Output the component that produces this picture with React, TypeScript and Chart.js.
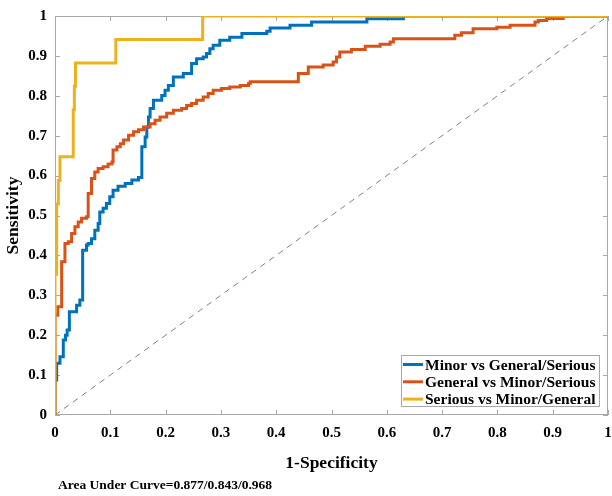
import React, { useEffect, useRef } from 'react';
import { Chart, registerables } from 'chart.js';

Chart.register(...registerables);

// Axis ticks
const tickValues = [0, 0.1, 0.2, 0.3, 0.4, 0.5, 0.6, 0.7, 0.8, 0.9, 1];
const tickLabels = ['0', '0.1', '0.2', '0.3', '0.4', '0.5', '0.6', '0.7', '0.8', '0.9', '1'];

// Series names
const seriesNames = ['Minor vs General/Serious', 'General vs Minor/Serious', 'Serious vs Minor/General'];

// ROC points [1-specificity, sensitivity]
const minorRoc: [number, number][] = [
  [0, 0], [0, 0.088], [0.003, 0.13], [0.009, 0.146], [0.015, 0.188], [0.019, 0.2], [0.022, 0.213],
  [0.026, 0.259], [0.039, 0.275], [0.045, 0.288], [0.05, 0.413], [0.057, 0.426], [0.06, 0.43],
  [0.066, 0.442], [0.072, 0.463], [0.078, 0.48], [0.081, 0.509], [0.087, 0.518], [0.093, 0.53],
  [0.099, 0.547], [0.105, 0.563], [0.114, 0.573], [0.127, 0.58], [0.139, 0.589], [0.151, 0.595],
  [0.157, 0.672], [0.163, 0.697], [0.166, 0.722], [0.169, 0.747], [0.172, 0.768], [0.178, 0.789],
  [0.193, 0.801], [0.199, 0.814], [0.205, 0.826], [0.214, 0.847], [0.232, 0.856], [0.247, 0.881],
  [0.256, 0.893], [0.268, 0.897], [0.274, 0.906], [0.28, 0.918], [0.286, 0.927], [0.298, 0.939],
  [0.316, 0.947], [0.338, 0.956], [0.383, 0.962], [0.389, 0.97], [0.425, 0.977], [0.464, 0.985],
  [0.564, 0.993], [0.63, 1], [1, 1],
];

const generalRoc: [number, number][] = [
  [0, 0], [0, 0.25], [0.005, 0.271], [0.012, 0.384], [0.018, 0.43], [0.024, 0.434], [0.03, 0.455],
  [0.036, 0.472], [0.042, 0.484], [0.048, 0.493], [0.057, 0.497], [0.06, 0.555], [0.066, 0.593],
  [0.072, 0.609], [0.078, 0.618], [0.087, 0.622], [0.096, 0.629], [0.103, 0.634], [0.105, 0.664],
  [0.112, 0.672], [0.118, 0.68], [0.124, 0.689], [0.133, 0.701], [0.142, 0.71], [0.151, 0.715],
  [0.16, 0.722], [0.172, 0.73], [0.181, 0.739], [0.19, 0.747], [0.202, 0.756], [0.214, 0.764],
  [0.229, 0.768], [0.238, 0.776], [0.247, 0.781], [0.256, 0.789], [0.268, 0.797], [0.277, 0.806],
  [0.286, 0.814], [0.301, 0.818], [0.316, 0.822], [0.335, 0.826], [0.35, 0.831], [0.353, 0.835],
  [0.44, 0.856], [0.458, 0.872], [0.485, 0.877], [0.503, 0.885], [0.509, 0.897], [0.515, 0.91],
  [0.536, 0.916], [0.561, 0.924], [0.588, 0.929], [0.606, 0.935], [0.612, 0.943], [0.723, 0.952],
  [0.735, 0.958], [0.756, 0.968], [0.799, 0.972], [0.823, 0.977], [0.868, 0.985], [0.874, 0.989],
  [0.889, 0.994], [0.919, 1], [1, 1],
];

const seriousRoc: [number, number][] = [
  [0, 0], [0, 0.353], [0.003, 0.529], [0.006, 0.588], [0.009, 0.647], [0.033, 0.765], [0.035, 0.824],
  [0.037, 0.882], [0.11, 0.941], [0.267, 1], [1, 1],
];

const chanceLine: [number, number][] = [[0, 0], [1, 1]];

const aucText = 'Area Under Curve=0.877/0.843/0.968';
const xTitle = '1-Specificity';
const yTitle = 'Sensitivity';

const colors = ['#0072BD', '#D95319', '#EDB120'];
const SERIF = '"Liberation Serif", "Times New Roman", "DejaVu Serif", serif';

export default function App() {
  const ref = useRef<HTMLCanvasElement>(null);

  useEffect(() => {
    if (!ref.current) return;
    const toPts = (a: [number, number][]) => a.map(([x, y]) => ({ x, y }));
    const label = (v: number) => {
      const i = tickValues.findIndex((t) => Math.abs(t - v) < 1e-9);
      return i >= 0 ? tickLabels[i] : '';
    };

    const framePlugin = {
      id: 'frame',
      beforeDatasetsDraw(chart: any) {
        const { ctx, chartArea: a, scales } = chart;
        ctx.save();
        ctx.strokeStyle = '#a8a8a8';
        ctx.lineWidth = 1;
        ctx.strokeRect(a.left + 0.5, a.top + 0.5, a.right - a.left - 1, a.bottom - a.top - 1);
        const tl = 5;
        ctx.beginPath();
        tickValues.forEach((v) => {
          const px = Math.round(scales.x.getPixelForValue(v)) + 0.5;
          ctx.moveTo(px, a.bottom);
          ctx.lineTo(px, a.bottom - tl);
          ctx.moveTo(px, a.top);
          ctx.lineTo(px, a.top + tl);
          const py = Math.round(scales.y.getPixelForValue(v)) + 0.5;
          ctx.moveTo(a.left, py);
          ctx.lineTo(a.left + tl, py);
          ctx.moveTo(a.right, py);
          ctx.lineTo(a.right - tl, py);
        });
        ctx.stroke();
        ctx.restore();
      },
      afterDraw(chart: any) {
        const { ctx, chartArea: a } = chart;
        ctx.save();
        // Legend
        const bx = 401.5, by = 355.5, bw = 198, bh = 51;
        ctx.fillStyle = '#ffffff';
        ctx.fillRect(bx, by, bw, bh);
        ctx.strokeStyle = '#a8a8a8';
        ctx.lineWidth = 1;
        ctx.strokeRect(bx, by, bw, bh);
        ctx.font = `bold 15.5px ${SERIF}`;
        ctx.textBaseline = 'middle';
        ctx.textAlign = 'left';
        seriesNames.forEach((name, i) => {
          const ry = 364.5 + i * 17.3;
          ctx.strokeStyle = colors[i];
          ctx.lineWidth = 3;
          ctx.beginPath();
          ctx.moveTo(403, ry);
          ctx.lineTo(423, ry);
          ctx.stroke();
          ctx.fillStyle = '#000';
          ctx.fillText(name, 425, ry + 1);
        });
        // Axis titles
        ctx.fillStyle = '#000';
        ctx.font = `bold 17.5px ${SERIF}`;
        ctx.textAlign = 'center';
        ctx.textBaseline = 'middle';
        ctx.fillText(xTitle, (a.left + a.right) / 2, 463);
        ctx.save();
        ctx.translate(13, (a.top + a.bottom) / 2);
        ctx.rotate(-Math.PI / 2);
        ctx.fillText(yTitle, 0, 0);
        ctx.restore();
        // AUC footnote
        ctx.font = `bold 13.5px ${SERIF}`;
        ctx.textAlign = 'left';
        ctx.fillText(aucText, 58, 486);
        ctx.restore();
      },
    };

    const tickFont = { family: SERIF, size: 15, weight: 'bold' as const };

    const chart = new Chart(ref.current, {
      type: 'scatter',
      data: {
        datasets: [
          {
            label: 'chance',
            data: toPts(chanceLine),
            showLine: true,
            borderColor: '#808080',
            borderWidth: 1,
            borderDash: [6, 5],
            pointRadius: 0,
            order: 4,
          },
          {
            label: seriesNames[0],
            data: toPts(minorRoc),
            showLine: true,
            stepped: 'before',
            borderColor: colors[0],
            borderWidth: 3,
            pointRadius: 0,
            order: 3,
          },
          {
            label: seriesNames[1],
            data: toPts(generalRoc),
            showLine: true,
            stepped: 'before',
            borderColor: colors[1],
            borderWidth: 3,
            pointRadius: 0,
            order: 2,
          },
          {
            label: seriesNames[2],
            data: toPts(seriousRoc),
            showLine: true,
            stepped: 'before',
            borderColor: colors[2],
            borderWidth: 3,
            pointRadius: 0,
            order: 1,
          },
        ] as any,
      },
      options: {
        animation: false,
        responsive: false,
        layout: { padding: { top: 16, right: 4, left: 0, bottom: 0 } },
        plugins: {
          legend: { display: false },
          tooltip: { enabled: false },
        },
        scales: {
          x: {
            type: 'linear',
            min: 0,
            max: 1,
            afterBuildTicks: (s: any) => {
              s.ticks = tickValues.map((v) => ({ value: v }));
            },
            afterFit: (s: any) => {
              s.height = 81;
              s.paddingLeft = 0;
              s.paddingRight = 0;
            },
            ticks: {
              callback: (v: any) => label(Number(v)),
              font: tickFont,
              color: '#000',
              padding: 9,
              maxRotation: 0,
              autoSkip: false,
            },
            grid: { display: false, drawTicks: false },
            border: { display: false },
          },
          y: {
            type: 'linear',
            min: 0,
            max: 1,
            afterBuildTicks: (s: any) => {
              s.ticks = tickValues.map((v) => ({ value: v }));
            },
            afterFit: (s: any) => {
              s.width = 55;
              s.paddingTop = 0;
              s.paddingBottom = 0;
            },
            ticks: {
              callback: (v: any) => label(Number(v)),
              font: tickFont,
              color: '#000',
              padding: 8,
              autoSkip: false,
            },
            grid: { display: false, drawTicks: false },
            border: { display: false },
          },
        },
      } as any,
      plugins: [framePlugin],
    });

    return () => chart.destroy();
  }, []);

  return (
    <div style={{ position: 'absolute', left: 0, top: 0, width: 612, height: 496, background: '#fff' }}>
      <canvas ref={ref} width={612} height={496} style={{ display: 'block', width: 612, height: 496 }} />
    </div>
  );
}
